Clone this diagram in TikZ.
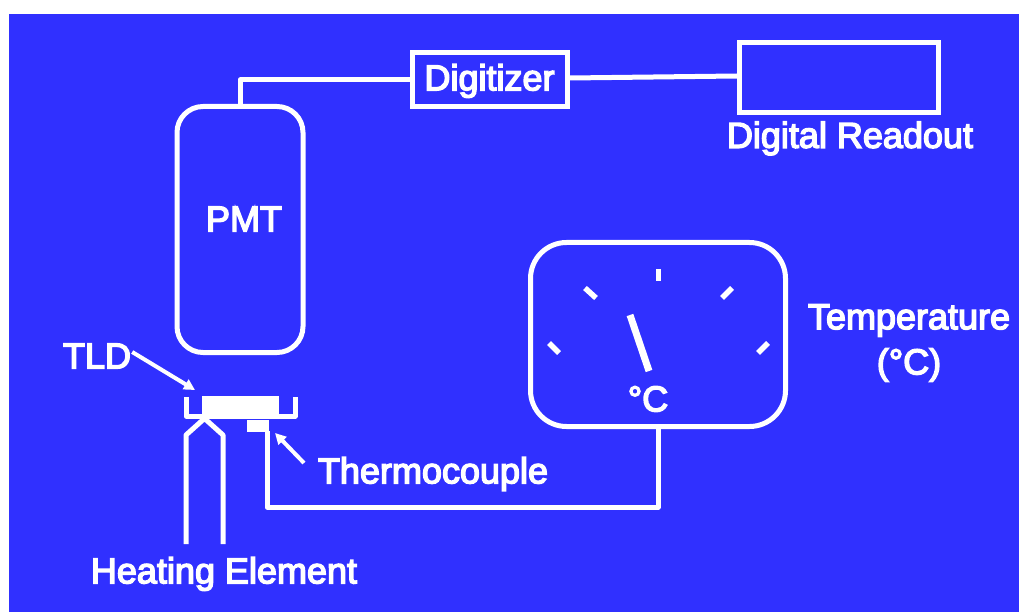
\documentclass[tikz,border=0pt]{standalone}
\usepackage{fontspec}
\font\lblfont="Liberation Sans:embolden=4" at 36pt
\usetikzlibrary{arrows.meta}
\definecolor{bgblue}{RGB}{48,48,255}
\tikzset{
  wire/.style={draw=white,line width=5pt,line join=round},
  box/.style={draw=white,line width=5pt,inner sep=0pt,anchor=center},
  roundbox/.style={box,rounded corners=#1},
  solid block/.style={fill=white,draw=none,inner sep=0pt,anchor=center},
  lbl/.style={text=white,inner sep=0pt,anchor=center,font=\lblfont},
  tick mark/.style={draw=white,line width=5.5pt},
  pointer/.style={draw=white,line width=4pt,-{Triangle[length=11pt,width=11pt]}},
}
\begin{document}
\begin{tikzpicture}[x=1pt,y=-1pt]
\useasboundingbox (0,0) rectangle (1019,612);
\fill[white] (0,0) rectangle (1019,612);
\fill[bgblue] (9,14) rectangle (1019,612);
% boxes
\node[roundbox=26pt,minimum width=126pt,minimum height=246pt] (pmt) at (240,229.5) {};
\node[box,minimum width=155pt,minimum height=54pt] (dig) at (490,79.5) {};
\node[box,minimum width=199pt,minimum height=70pt] (read) at (839,77.5) {};
\node[roundbox=36pt,minimum width=255pt,minimum height=184pt] (gauge) at (658,334.5) {};
\node[solid block,minimum width=77pt,minimum height=22pt] (tld) at (240.5,407) {};
\node[solid block,minimum width=22pt,minimum height=12pt] (tc) at (258,425.5) {};
% labels
\node[lbl] (digl) at (489.5,81) {Digitizer};
\node[lbl] (readl) at (850,138.5) {Digital Readout};
\node[lbl] (pmtl) at (244,219) {PMT};
\node[lbl] (templ) at (909,320.5) {Temperature};
\node[lbl] (templb) at (909,365) {(°C)};
\node[lbl] (gaugel) at (648,399) {°C};
\node[lbl] (tldl) at (97,356) {TLD};
\node[lbl] (tcl) at (433,474) {Thermocouple};
\node[lbl] (heatl) at (224,574) {Heating Element};
% connectors
\coordinate (pmtup) at (240,80);
\draw[wire] (pmt.north) -- (pmtup) -- (dig.west |- pmtup);
\draw[wire] (dig.east |- 0,78) -- (read.west |- 0,76);
\coordinate (tcfoot) at (267,507);
\draw[wire] (267,431) -- (tcfoot) -- (gauge.south |- tcfoot) -- (gauge.south);
% cup
\coordinate (cupl) at (186,397);
\coordinate (cupr) at (295,397);
\draw[wire] (cupl) -- (186,416) -- (295,416) -- (cupr);
% heating element
\coordinate (hla) at (186,544);
\coordinate (hra) at (223,544);
\draw[wire] (hla) -- (186,435) -- (205,418) (hra) -- (223,435) -- (204,418);
% pointers
\draw[pointer] (tldl.east) ++(1,-4) -- (195,390);
\draw[pointer] (304,463) -- (275,433);
% gauge ticks and needle
\draw[tick mark] (658.5,269) -- (658.5,281);
\draw[tick mark] (585,288) -- (596,298);
\draw[tick mark] (722,298) -- (732,288);
\draw[tick mark] (549,343) -- (559,353);
\draw[tick mark] (758,353) -- (768,343);
\draw[tick mark,line width=7pt] (630,315) -- (649,371);
\end{tikzpicture}
\end{document}
